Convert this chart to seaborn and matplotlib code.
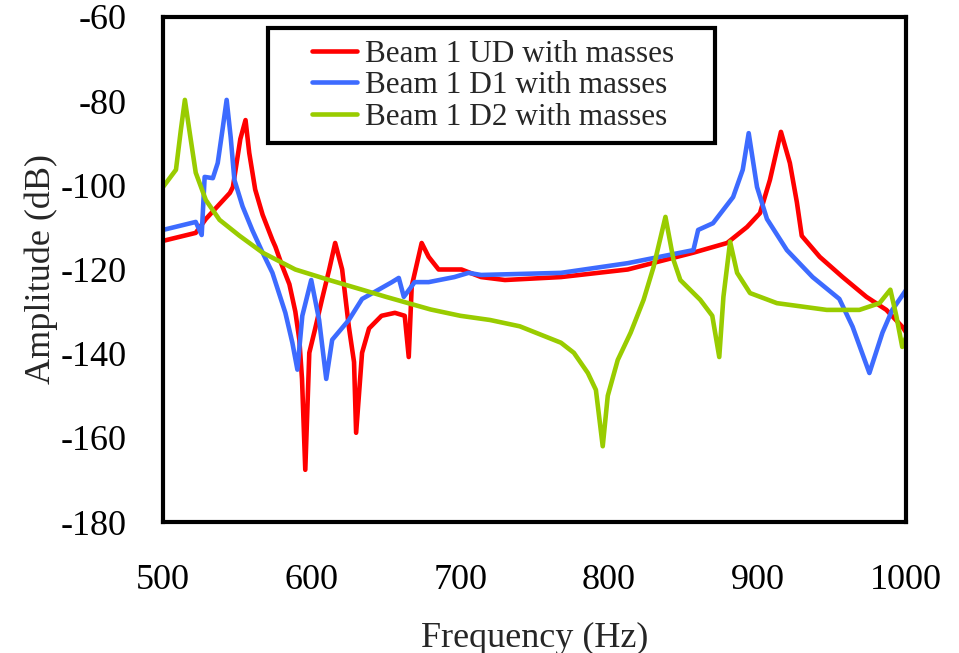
import numpy as np
import pandas as pd
import matplotlib
matplotlib.use('Agg')
from matplotlib import pyplot as plt
import matplotlib.patches as mpatches
import seaborn as sns

# Beam 1 UD with masses
ud_freq = [500, 522, 528.8, 545, 547, 552, 555.5, 558, 562, 567, 573.6, 575.6, 580, 585,
           589, 591.7, 593.5, 595.7, 598.4, 602.4, 607, 611.8, 615.8, 620.5, 625, 628.5,
           629.9, 633.9, 638.6, 647, 656, 662.6, 665.3, 667.3, 674, 678.7, 685.4, 700.8,
           714, 730, 767.7, 812.6, 856.8, 879.5, 892.9, 901.6, 908.3, 915.7, 921.7, 926.4,
           929.7, 941.8, 957.2, 973.2, 986.6, 997.3, 1000]
ud_amp = [-113.2, -111.3, -108, -101.8, -100.4, -89, -84.5, -92.3, -101, -107, -113, -114.6,
          -119, -123.5, -130, -136.7, -146, -167.6, -139.8, -134, -127, -120, -113.7, -120,
          -133.6, -142, -158.8, -139.8, -134, -131, -130.3, -131, -140.8, -124, -113.7, -117,
          -120, -120, -121.8, -122.5, -121.8, -120, -116, -113.7, -109.9, -106.6, -98.7,
          -87.3, -94.7, -104, -112, -117, -121.8, -126.5, -129.6, -133.6, -135]

# Beam 1 D1 with masses
d1_freq = [500, 522, 526, 528, 533.5, 536.8, 540, 542.8, 545.5, 548, 553.5, 560, 567, 573.6,
           582.3, 587, 590.4, 593.7, 599.7, 605, 609.8, 613.8, 625, 633.9, 645, 654, 658.6,
           662, 669.3, 678.7, 696, 705.5, 714, 767.7, 812.6, 856.8, 860, 870, 883.5, 890,
           894, 899.6, 906.3, 919.7, 937, 955, 963.9, 975.2, 984, 990.6, 1000]
d1_amp = [-110.6, -108.7, -111.8, -98, -98.3, -94.7, -86.8, -79.7, -88.5, -98.7, -105,
          -110.6, -116, -120.8, -130.3, -137.4, -143.8, -131, -122.5, -132, -146, -136.7,
          -132, -127, -124.8, -123, -122, -126.5, -123, -123, -121.8, -120.8, -121.3, -120.8,
          -118.5, -115.4, -110.6, -109, -102.8, -96.3, -87.6, -100.4, -108, -115.4, -121.8,
          -127, -133.6, -144.6, -135, -129.6, -124.8]

# Beam 1 D2 with masses
d2_freq = [500, 508.7, 512, 514.7, 518, 522, 528.8, 538, 551.5, 567, 589, 611.8, 633.9, 650,
           680, 700, 720, 740, 767.7, 776.4, 785.8, 791.2, 795.8, 799.2, 805.9, 814.6, 823.3,
           830, 838, 843.4, 848, 861.4, 869.5, 874.2, 877, 881.5, 886.2, 894.9, 913, 946.5,
           968.5, 982, 989.3, 993.3, 997.3, 1000]
d2_amp = [-100.4, -96.3, -86.8, -79.7, -87.6, -97, -103.5, -108.2, -112, -116, -120, -122.5,
          -124.8, -126.5, -129.5, -131, -132, -133.5, -137.4, -139.8, -144.6, -148.6, -162,
          -150, -141.5, -135, -127.2, -119.4, -107.5, -117.7, -122.5, -127.2, -131, -140.8,
          -126.5, -113.4, -120.8, -125.6, -128, -129.6, -129.6, -128, -124.8, -131, -138.4,
          -136]

labels = ['Beam 1 UD with masses', 'Beam 1 D1 with masses', 'Beam 1 D2 with masses']
colors = ['#FF0000', '#3D6BFF', '#99CC00']
x_ticks = [500, 600, 700, 800, 900, 1000]
y_ticks = [-180, -160, -140, -120, -100, -80, -60]


def BuildFrame():
    parts = []
    for lb, f, a in zip(labels, [ud_freq, d1_freq, d2_freq], [ud_amp, d1_amp, d2_amp]):
        parts.append(pd.DataFrame({'freq': f, 'amp': a, 'series': lb}))
    return pd.concat(parts, ignore_index=True)


def MakePlot(pd_data):
    sns.set_style('white')
    plt.rcParams['font.family'] = ['Liberation Serif', 'DejaVu Serif']
    plt.rcParams['axes.unicode_minus'] = False
    fig = plt.figure(figsize=(9.59, 6.53), dpi=100)
    ax = fig.add_axes([0.170, 0.2006, 0.775, 0.7734])
    sns.lineplot(data=pd_data, x='freq', y='amp', hue='series', hue_order=labels,
                 palette=colors, sort=False, lw=3.3, ax=ax, estimator=None)
    ax.set_xlim(500, 1000)
    ax.set_ylim(-180, -60)
    ax.set_xticks(x_ticks)
    ax.set_yticks(y_ticks)
    ax.tick_params(axis='both', direction='in', length=9, width=3, labelsize=26,
                   color='black', labelcolor='black')
    ax.tick_params(axis='x', pad=30)
    ax.tick_params(axis='y', pad=26)
    for sp in ax.spines.values():
        sp.set_visible(True)
        sp.set_linewidth(3)
        sp.set_color('black')
    ax.set_xlabel('Frequency (Hz)', fontsize=26, labelpad=18)
    ax.set_ylabel('Amplitude (dB)', fontsize=26, labelpad=2)

    # legend box drawn separately (wide side margins in the original)
    box = mpatches.Rectangle((0.1413, 0.7505), 0.6017, 0.2275, transform=ax.transAxes,
                             facecolor='white', edgecolor='black', lw=3, zorder=4)
    ax.add_patch(box)
    leg = ax.legend(loc='center', bbox_to_anchor=(0.444, 0.864), fontsize=22.5,
                    frameon=False, handlelength=1.45, handletextpad=0.25,
                    borderpad=0, labelspacing=0.08, borderaxespad=0)
    leg.set_zorder(5)
    for ln in leg.get_lines():
        ln.set_linewidth(3.3)
    plt.savefig('out.png', dpi=100)


def main():
    pd_data = BuildFrame()
    MakePlot(pd_data)


if __name__ == '__main__':
    main()
